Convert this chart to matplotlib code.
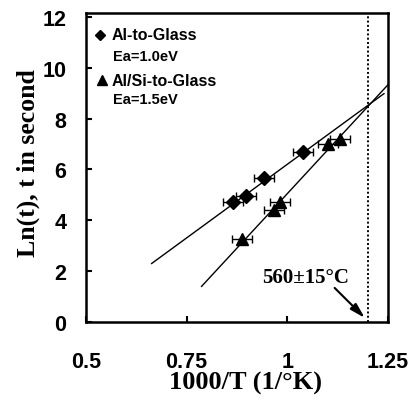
import matplotlib
matplotlib.use("Agg")
import matplotlib.pyplot as plt
import numpy as np

# Data
al_x = [0.865, 0.897, 0.9425, 1.038]
al_y = [4.70, 4.97, 5.65, 6.68]
alsi_x = [0.887, 0.9675, 0.982, 1.100, 1.130]
alsi_y = [3.25, 4.40, 4.72, 6.98, 7.20]
xerr = 0.025
al_fit_x = [0.663, 1.24]
al_fit_y = [2.30, 8.98]
alsi_fit_x = [0.787, 1.25]
alsi_fit_y = [1.40, 9.33]
vline_x = 1.2
arrow_start = (1.1175, 1.34)
arrow_end = (1.1925, 0.16)
xticks = [0.5, 0.75, 1.0, 1.25]
xtick_labels = ["0.5", "0.75", "1", "1.25"]
yticks = [0, 2, 4, 6, 8, 10, 12]

fig = plt.figure(figsize=(4.15, 4.02), dpi=100)
ax = fig.add_axes([86/415, 1-323/402, 302/415, 309/402])

ax.plot(al_fit_x, al_fit_y, color="black", lw=1.0)
ax.plot(alsi_fit_x, alsi_fit_y, color="black", lw=1.0)
ax.errorbar(al_x, al_y, xerr=xerr, fmt="D", color="black", ms=7,
            capsize=3, elinewidth=1, capthick=1)
ax.errorbar(alsi_x, alsi_y, xerr=xerr, fmt="^", color="black", ms=8.5,
            capsize=3, elinewidth=1, capthick=1)
ax.axvline(vline_x, color="black", ls=(0, (1, 1.2)), lw=1.4)

ax.text(1.045, 1.77, "560\u00b115\u00b0C", ha="center", va="center",
        fontsize=15, fontweight="bold", family="Liberation Serif")
ax.annotate("", xy=arrow_end, xytext=arrow_start,
            arrowprops=dict(arrowstyle="-|>,head_length=0.9,head_width=0.25",
                            color="black", lw=1.5, shrinkA=0, shrinkB=0))

# Legend (manual)
sans = "Liberation Sans"
ax.plot([0.046], [0.929], "D", color="black", ms=5, transform=ax.transAxes, clip_on=False)
ax.text(0.086, 0.929, "Al-to-Glass", transform=ax.transAxes, va="center",
        fontsize=11.5, fontweight="bold", family=sans)
ax.text(0.089, 0.861, "Ea=1.0eV", transform=ax.transAxes, va="center",
        fontsize=10.5, fontweight="bold", family=sans)
ax.plot([0.053], [0.783], "^", color="black", ms=7, transform=ax.transAxes, clip_on=False)
ax.text(0.086, 0.783, "Al/Si-to-Glass", transform=ax.transAxes, va="center",
        fontsize=11.5, fontweight="bold", family=sans)
ax.text(0.089, 0.722, "Ea=1.5eV", transform=ax.transAxes, va="center",
        fontsize=10.5, fontweight="bold", family=sans)

ax.set_xlim(0.5, 1.25)
ax.set_ylim(0, 12.15)
ax.set_xticks(xticks)
ax.set_xticklabels(xtick_labels)
ax.set_yticks(yticks)
ax.tick_params(direction="in", length=4, width=1.5, labelsize=15.5)
ax.tick_params(axis="x", pad=21)
ax.tick_params(axis="y", pad=14)
for lab in ax.get_xticklabels() + ax.get_yticklabels():
    lab.set_fontweight("bold")
    lab.set_family(sans)
for s in ax.spines.values():
    s.set_linewidth(1.8)

ax.set_xlabel("1000/T (1/\u00b0K)", fontsize=19, fontweight="bold",
              family="Liberation Serif")
ax.set_ylabel("Ln(t), t in second", fontsize=18.5, fontweight="bold",
              family="Liberation Serif")
ax.xaxis.set_label_coords(0.527, -0.158)
ax.yaxis.set_label_coords(-0.152, 0.518)

fig.savefig("out.png", dpi=100)
